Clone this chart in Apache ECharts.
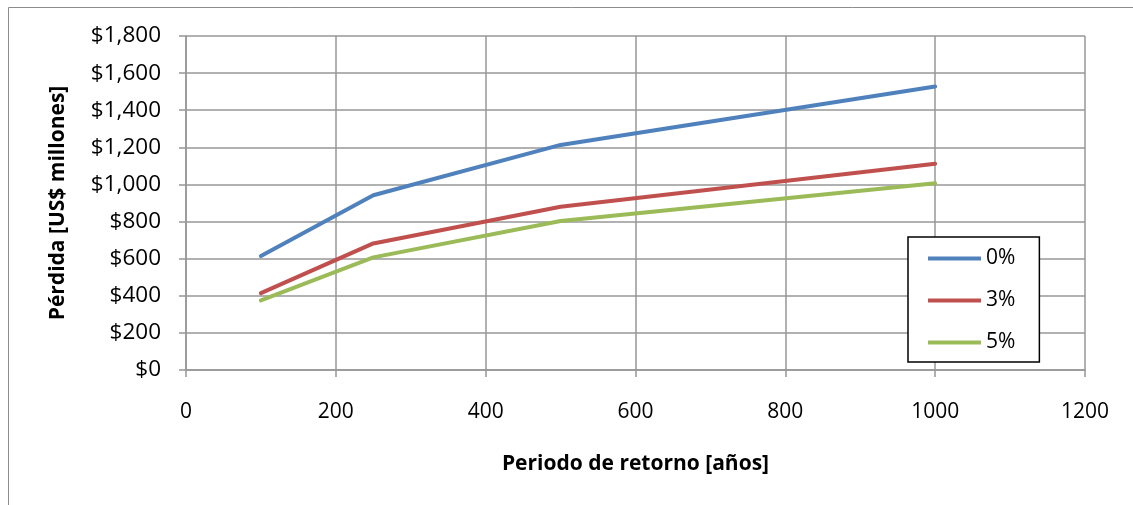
<!DOCTYPE html>
<html>
<head>
<meta charset="utf-8">
<script src="https://cdn.jsdelivr.net/npm/echarts@6/dist/echarts.min.js"></script>
<style>
  html, body { margin: 0; padding: 0; background: #ffffff; }
  #chart { width: 1133px; height: 505px; }
</style>
</head>
<body>
<div id="chart"></div>
<script>
// Return periods (years) and loss per discount rate (US$ millions)
const periods = [100, 250, 500, 1000];
const seriesNames = ['0%', '3%', '5%'];
const loss0 = [614, 942, 1213, 1528];
const loss3 = [414, 682, 880, 1112];
const loss5 = [375, 607, 803, 1006];
const colors = ['#4F81BD', '#C0504D', '#9BBB59'];

const font = 'Open Sans';
const grid = '#979797';

function pairs(ys) { return periods.map((x, i) => [x, ys[i]]); }

const chart = echarts.init(document.getElementById('chart'), null, { renderer: 'canvas' });

chart.setOption({
  animation: false,
  backgroundColor: '#ffffff',
  graphic: [{
    type: 'rect',
    shape: { x: 8.5, y: 7.5, width: 1140, height: 520 },
    style: { fill: 'none', stroke: '#8c8c8c', lineWidth: 1 },
    silent: true
  }],
  grid: { left: 186, right: 48, top: 36, bottom: 135, containLabel: false },
  legend: {
    orient: 'vertical',
    left: 908, top: 237,
    data: seriesNames,
    icon: 'rect',
    itemWidth: 53, itemHeight: 4,
    itemGap: 21,
    padding: [11, 24, 9, 20],
    backgroundColor: '#ffffff',
    borderColor: '#000000', borderWidth: 1.5, borderRadius: 0,
    textStyle: { fontFamily: font, fontSize: 21, color: '#000' }
  },
  xAxis: {
    type: 'value', min: 0, max: 1200, interval: 200,
    name: 'Periodo de retorno [años]',
    nameLocation: 'middle', nameGap: 84,
    nameTextStyle: { fontFamily: font, fontSize: 21, fontWeight: 'bold', color: '#000' },
    axisLine: { show: true, lineStyle: { color: grid, width: 1.5 } },
    axisTick: { show: true, length: 7, inside: false, lineStyle: { color: grid, width: 1.5 } },
    axisLabel: { fontFamily: font, fontSize: 21, color: '#000', margin: 32, formatter: v => String(v) },
    splitLine: { show: true, lineStyle: { color: grid, width: 1.5 } }
  },
  yAxis: {
    type: 'value', min: 0, max: 1800, interval: 200,
    name: 'Pérdida [US$ millones]',
    nameLocation: 'middle', nameGap: 117, nameRotate: 90,
    nameTextStyle: { fontFamily: font, fontSize: 21, fontWeight: 'bold', color: '#000' },
    axisLine: { show: true, lineStyle: { color: grid, width: 1.5 } },
    axisTick: { show: true, length: 7, inside: false, lineStyle: { color: grid, width: 1.5 } },
    axisLabel: {
      fontFamily: font, fontSize: 22.5, color: '#000', margin: 25,
      formatter: v => '$' + v.toLocaleString('en-US')
    },
    splitLine: { show: true, lineStyle: { color: grid, width: 1.5 } }
  },
  series: [loss0, loss3, loss5].map((ys, i) => ({
    name: seriesNames[i],
    type: 'line',
    data: pairs(ys),
    symbol: 'none',
    color: colors[i],
    lineStyle: { width: 4, color: colors[i], cap: 'round', join: 'round' },
    z: 3 - i
  }))
});
</script>
</body>
</html>
